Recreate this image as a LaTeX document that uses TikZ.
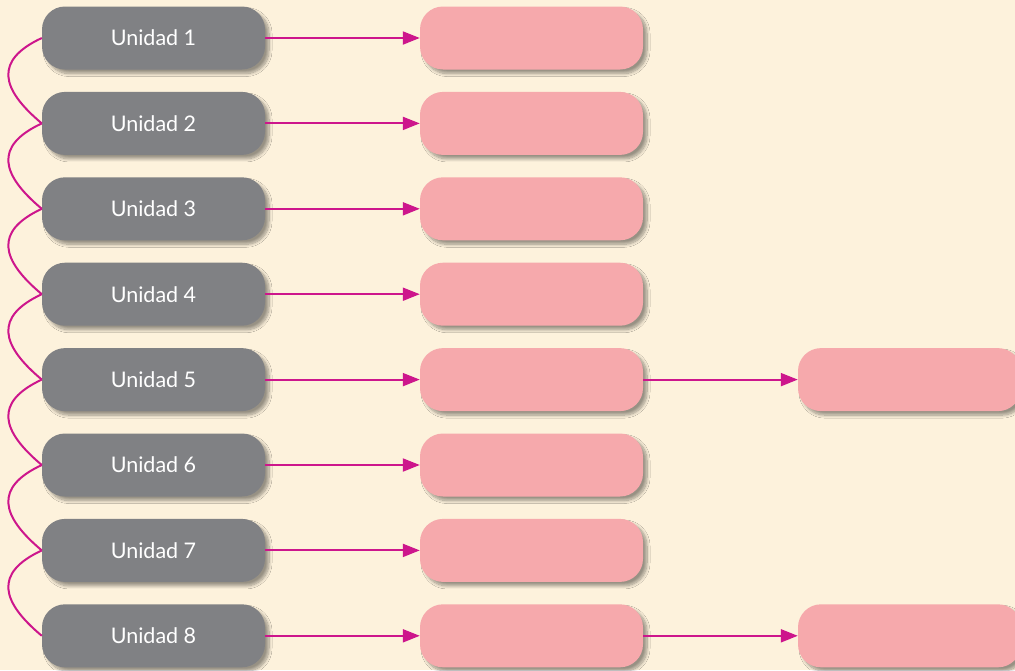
\documentclass[tikz,border=0pt]{standalone}
\usepackage{fontspec}
\newfontfamily\labfont{Lato}
\usetikzlibrary{arrows.meta,shadows.blur}
\definecolor{bgcol}{HTML}{FDF2DC}
\definecolor{unitgray}{HTML}{808184}
\definecolor{pinkfill}{HTML}{F6A9AC}
\definecolor{magline}{HTML}{CD168C}
\tikzset{
  softshadow/.style={blur shadow={shadow xshift=4pt,shadow yshift=-4pt,shadow blur radius=3pt,shadow opacity=40,shadow blur steps=10}},
  unitbox/.style={rectangle,rounded corners=23pt,fill=unitgray,minimum width=223pt,minimum height=63pt,text=white,font=\labfont\fontsize{21.5}{26}\selectfont,softshadow,inner sep=0pt},
  pinkbox/.style={rectangle,rounded corners=23pt,fill=pinkfill,minimum width=223pt,minimum height=63pt,softshadow,inner sep=0pt},
  arr/.style={draw=magline,line width=2pt,-{Triangle[length=17pt,width=13pt]}},
  link/.style={draw=magline,line width=2pt}
}
\begin{document}
\begin{tikzpicture}[x=1pt,y=1pt]
\fill[bgcol] (0,0) rectangle (1015,-670);
\useasboundingbox (0,0) rectangle (1015,-670);
\clip (0,0) rectangle (1015,-670);
\foreach \i in {1,...,8}{
  \pgfmathsetmacro{\yy}{-38-(\i-1)*85.4}
  \node[unitbox] (g\i) at (153.5,\yy) {\raisebox{-1.5pt}{Unidad \i}};
  \node[pinkbox] (p\i) at (531.5,\yy) {};
  \draw[arr] (g\i.east) -- (p\i.west);
}
\node[pinkbox] (r5) at (909.5,{-38-4*85.4}) {};
\node[pinkbox] (r8) at (909.5,{-38-7*85.4}) {};
\draw[arr] (p5.east) -- (r5.west);
\draw[arr] (p8.east) -- (r8.west);
\foreach \i/\j in {1/2,2/3,3/4,4/5,5/6,6/7,7/8}{
  \draw[link] (g\i.west) to[out=205,in=140,looseness=1.6] (g\j.west);
}
\end{tikzpicture}
\end{document}
